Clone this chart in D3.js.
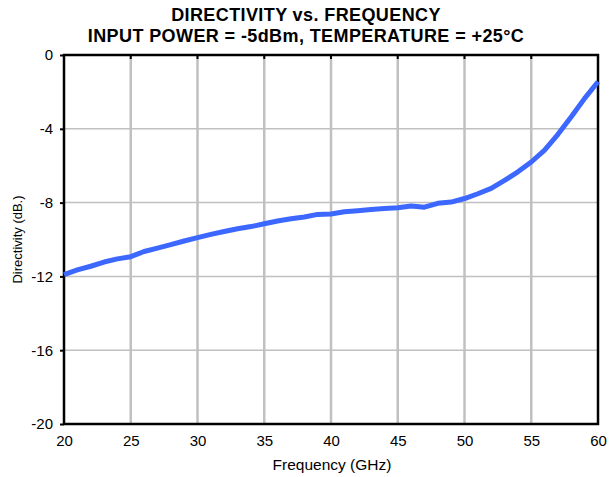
<!DOCTYPE html>
<html><head><meta charset="utf-8">
<script src="https://cdn.jsdelivr.net/npm/d3@7"></script>
<style>body{margin:0;background:#fff}svg{display:block}text{font-family:"Liberation Sans",Arial,sans-serif;fill:#000}</style>
</head><body><svg id="c" width="609" height="477"></svg>
<script>
const freq = [20,21,22,23,24,25,26,27,28,29,30,31,32,33,34,35,36,37,38,39,40,41,42,43,44,45,46,47,48,49,50,51,52,53,54,55,56,57,58,59,60];
const directivity = [-11.9,-11.65,-11.45,-11.22,-11.05,-10.93,-10.65,-10.47,-10.28,-10.08,-9.9,-9.72,-9.57,-9.42,-9.3,-9.15,-9.0,-8.88,-8.78,-8.64,-8.62,-8.5,-8.44,-8.38,-8.32,-8.28,-8.18,-8.25,-8.04,-7.97,-7.78,-7.52,-7.23,-6.8,-6.33,-5.8,-5.15,-4.3,-3.35,-2.35,-1.45];
const xTicks = [20,25,30,35,40,45,50,55,60];
const yTicks = [0,-4,-8,-12,-16,-20];
const titleLines = ["DIRECTIVITY vs. FREQUENCY","INPUT POWER = -5dBm, TEMPERATURE = +25°C"];

const svg = d3.select("#c");
const L=64,R=598,T=55,B=424;
const x = d3.scaleLinear().domain([20,60]).range([L,R]);
const y = d3.scaleLinear().domain([-20,0]).range([B,T]);

// grid
svg.append("g").selectAll("line").data(yTicks.slice(1,-1)).join("line")
  .attr("x1",L).attr("x2",R).attr("y1",d=>y(d)).attr("y2",d=>y(d))
  .attr("stroke","#c0c0c0").attr("stroke-width",1.5);
svg.append("g").selectAll("line").data(xTicks.slice(1,-1)).join("line")
  .attr("y1",T).attr("y2",B).attr("x1",d=>x(d)).attr("x2",d=>x(d))
  .attr("stroke","#c0c0c0").attr("stroke-width",2.5);

// axes
const xa = svg.append("g").attr("transform",`translate(0,${B})`)
  .call(d3.axisBottom(x).tickValues(xTicks).tickSize(0).tickPadding(11).tickFormat(d=>String(d)));
const ya = svg.append("g").attr("transform",`translate(${L},0)`)
  .call(d3.axisLeft(y).tickValues(yTicks).tickSize(4).tickPadding(7).tickFormat(d=>String(d)));
[xa,ya].forEach(a=>{a.select(".domain").remove();a.selectAll("text").attr("font-size",15).attr("font-family","Liberation Sans, Arial, sans-serif");a.selectAll("line").attr("stroke","#000").attr("stroke-width",2);});
// top ticks
svg.append("g").selectAll("line").data(xTicks).join("line")
  .attr("x1",d=>x(d)).attr("x2",d=>x(d)).attr("y1",T).attr("y2",T+4)
  .attr("stroke","#000").attr("stroke-width",2);
// frame
svg.append("rect").attr("x",L).attr("y",T).attr("width",R-L).attr("height",B-T)
  .attr("fill","none").attr("stroke","#000").attr("stroke-width",2.5);

// line
svg.append("path").datum(freq.map((f,i)=>[f,directivity[i]]))
  .attr("d",d3.line().x(d=>x(d[0])).y(d=>y(d[1])))
  .attr("fill","none").attr("stroke","#3d68ff").attr("stroke-width",5)
  .attr("stroke-linejoin","round");

// titles
svg.selectAll(".t").data(titleLines).join("text").attr("class","t")
  .attr("x",306).attr("y",(d,i)=>21+i*21).attr("text-anchor","middle")
  .attr("font-size",18).attr("letter-spacing",0.4).attr("font-weight","bold").text(d=>d);
svg.append("text").attr("x",332).attr("y",470).attr("text-anchor","middle")
  .attr("font-size",15.5).text("Frequency (GHz)");
svg.append("text").attr("transform",`translate(22,${(T+B)/2}) rotate(-90)`)
  .attr("text-anchor","middle").attr("font-size",13).text("Directivity (dB.)");
</script></body></html>
